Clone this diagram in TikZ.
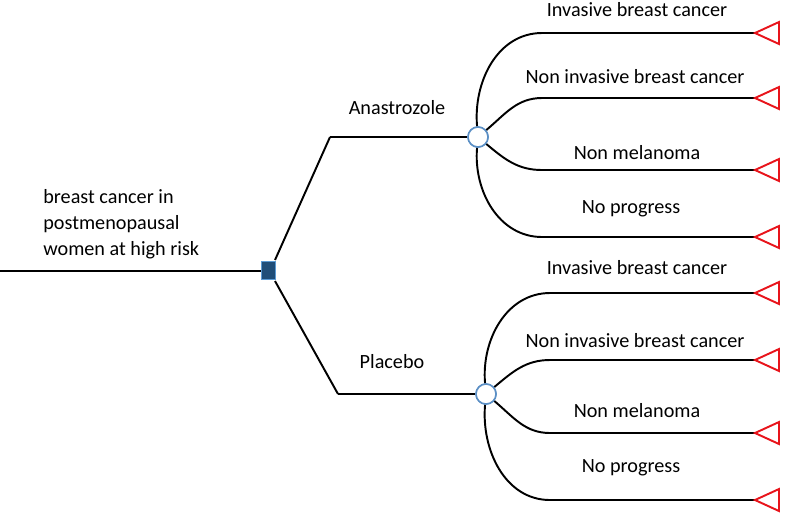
\documentclass[tikz,border=0pt]{standalone}
\usepackage{fontspec}
\setmainfont{Carlito}
\definecolor{decblue}{HTML}{1F4E79}
\definecolor{decedge}{HTML}{5B9BD5}
\definecolor{chedge}{HTML}{5B8FC5}
\definecolor{tri}{HTML}{E8141B}
\begin{document}
\begin{tikzpicture}[x=0.02cm,y=-0.02cm,
  wire/.style={line width=1.1pt,black},
  lbl/.style={font=\fontsize{11.5}{14.7}\selectfont,inner sep=0pt},
  chance/.style={circle,draw=chedge,fill=white,line width=0.9pt,minimum size=20*0.02cm,inner sep=0pt},
  decision/.style={rectangle,draw=decedge,fill=decblue,line width=0.4pt,minimum width=14*0.02cm,minimum height=18*0.02cm,inner sep=0pt},
  term/.style={draw=tri,line width=1.1pt,line join=miter}]
\useasboundingbox (0,0) rectangle (786,512);
% root
\coordinate (r0) at (0,271);
\coordinate (a1) at (330,137);
\coordinate (p1) at (338,394);
\draw[wire] (r0) -- (268,271);
\draw[wire] (275,260) -- (a1);
\draw[wire] (275,281) -- (p1);
\node[decision] (dec) at (268,270) {};
\node[chance] (c1) at (478,137) {};
\node[chance] (c2) at (486,394) {};
\draw[wire] (a1) -- (c1);
\draw[wire] (p1) -- (c2);
% top outcomes
\foreach \y/\o/\n in {33/95/a,98/40/b,170/-40/c,237/-95/d}{
  \coordinate (k1\n) at (542,\y);
  \coordinate (t1\n) at (755,\y);
  \draw[wire] (c1) to[out=\o,in=180] (k1\n) -- (t1\n);
  \draw[term] (t1\n) -- ++(24,-11) -- ++(0,22) -- cycle;
}
\foreach \y/\o/\n in {293/95/a,360/40/b,433/-40/c,500/-95/d}{
  \coordinate (k2\n) at (550,\y);
  \coordinate (t2\n) at (755,\y);
  \draw[wire] (c2) to[out=\o,in=180] (k2\n) -- (t2\n);
  \draw[term] (t2\n) -- ++(24,-11) -- ++(0,22) -- cycle;
}
\node[chance] at (c1) {};
\node[chance] at (c2) {};
% labels
\node[lbl] (l1) at (637,10) {Invasive breast cancer};
\node[lbl] (l2) at (635,77) {Non invasive breast cancer};
\node[lbl] (l3) at (637,153) {Non melanoma};
\node[lbl] (l4) at (631,209) {No progress};
\node[lbl] (l5) at (637,268) {Invasive breast cancer};
\node[lbl] (l6) at (635,341) {Non invasive breast cancer};
\node[lbl] (l7) at (637,411) {Non melanoma};
\node[lbl] (l8) at (631,468) {No progress};
\node[lbl] (la) at (397,108) {Anastrozole};
\node[lbl] (lp) at (392,362) {Placebo};
\node[lbl,align=left,anchor=west] (root) at (43,224) {breast cancer in\\postmenopausal\\women at high risk};
\end{tikzpicture}
\end{document}
